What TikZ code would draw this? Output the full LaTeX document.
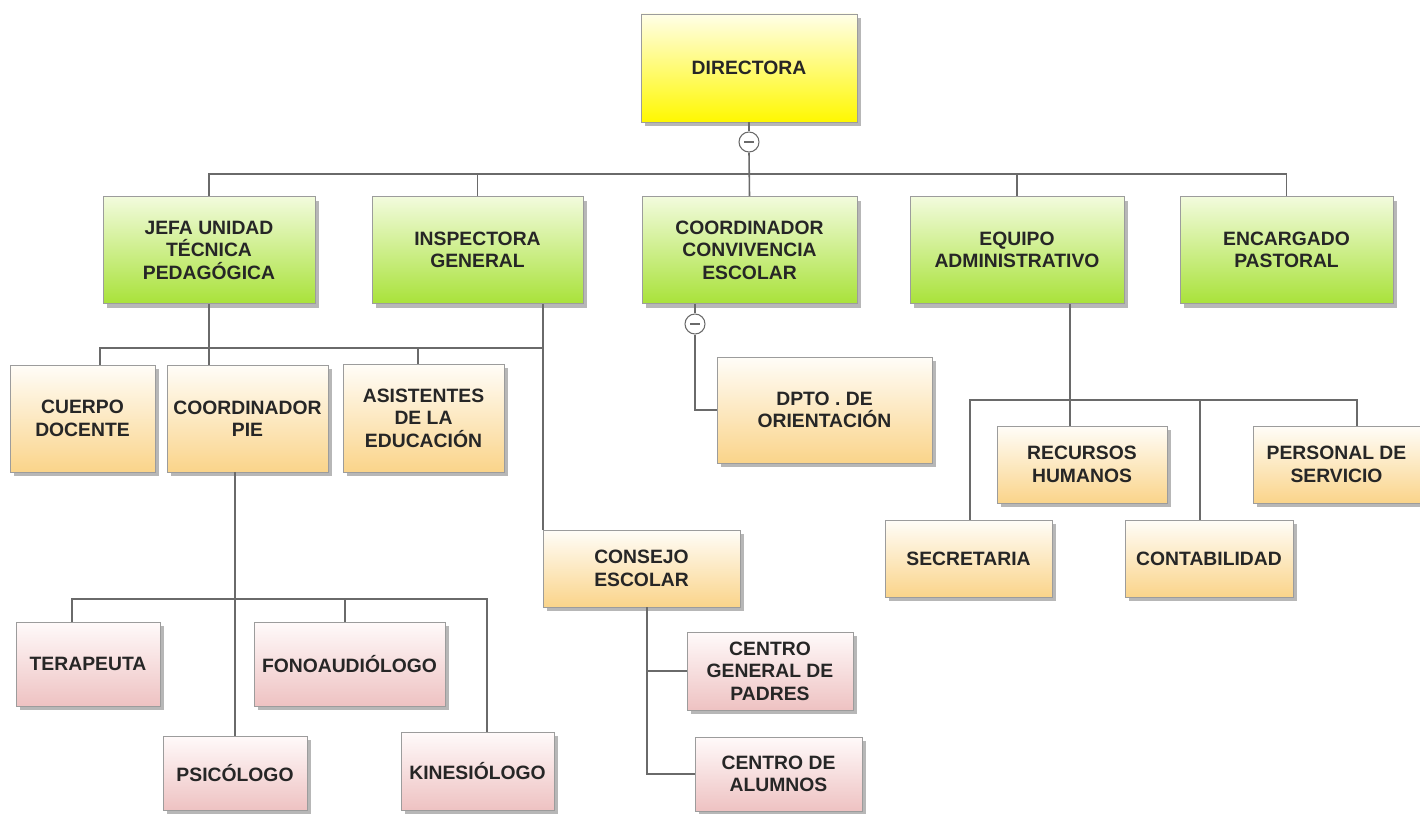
\documentclass[tikz,border=0pt]{standalone}
\usepackage{fontspec}
\setmainfont{Liberation Sans}
\usetikzlibrary{shadows}
\definecolor{lincol}{HTML}{6A6A6A}
\definecolor{boxline}{HTML}{9C9C9C}
\definecolor{greentop}{HTML}{F2FBDD}
\definecolor{greenbot}{HTML}{A9E23A}
\definecolor{yeltop}{HTML}{FFFEE8}
\definecolor{yelbot}{HTML}{FFF800}
\definecolor{orgtop}{HTML}{FFFDF8}
\definecolor{orgbot}{HTML}{FAD48A}
\definecolor{pnktop}{HTML}{FFFAFA}
\definecolor{pnkbot}{HTML}{EEC2C2}
\tikzset{
  sz/.style 2 args={minimum width=#1*0.02cm, minimum height=#2*0.02cm},
  box/.style={draw=boxline, line width=0.5pt, align=center, inner sep=0pt,
    font=\bfseries\fontsize{11}{12.8}\selectfont, text=black!85,
    drop shadow={shadow xshift=2.2pt, shadow yshift=-2.4pt, opacity=.4, fill=black!70}},
  ybox/.style={box, top color=yeltop, bottom color=yelbot},
  gbox/.style={box, top color=greentop, bottom color=greenbot},
  obox/.style={box, top color=orgtop, bottom color=orgbot},
  pbox/.style={box, top color=pnktop, bottom color=pnkbot},
  conn/.style={draw=lincol, line width=0.9pt},
  minus/.style={circle, draw=lincol, fill=white, line width=0.6pt, minimum size=0.4cm, inner sep=0pt,
    path picture={\draw[lincol, line width=0.8pt] ([xshift=-2.8pt]path picture bounding box.center)
      -- ([xshift=2.8pt]path picture bounding box.center);}}
}
\begin{document}
\begin{tikzpicture}[x=0.02cm, y=-0.02cm]
\useasboundingbox[fill=white] (0,0) rectangle (1420,814);
% boxes
\node[ybox, sz={216}{108}] (dir) at (749,68) {DIRECTORA};
\foreach \n/\x/\w/\t in {jefa/209/212/{JEFA UNIDAD\\TÉCNICA\\PEDAGÓGICA},
  insp/477.5/211/{INSPECTORA\\GENERAL},
  conv/749.5/215/{COORDINADOR\\CONVIVENCIA\\ESCOLAR},
  equipo/1017/214/{EQUIPO\\ADMINISTRATIVO},
  pastoral/1286.5/213/{ENCARGADO\\PASTORAL}}
  \node[gbox, sz={\w}{107}] (\n) at (\x,250) {\t};
\foreach \n/\x/\y/\w/\h/\t in {cuerpo/82.5/418.5/145/107/{CUERPO\\DOCENTE},
  pie/247.5/418.5/161/107/{COORDINADOR\\PIE},
  asist/423.5/418/161/108/{ASISTENTES\\DE LA\\EDUCACIÓN},
  consejo/641.5/568.5/197/77/{CONSEJO\\ESCOLAR},
  dpto/824.5/410/215/106/{DPTO . DE\\ORIENTACIÓN},
  rrhh/1082/464.5/170/77/{RECURSOS\\HUMANOS},
  pers/1336.5/464.5/167/77/{PERSONAL DE\\SERVICIO},
  sec/968.5/558.5/167/77/{SECRETARIA},
  cont/1209/558.5/168/77/{CONTABILIDAD}}
  \node[obox, sz={\w}{\h}] (\n) at (\x,\y) {\t};
\foreach \n/\x/\y/\w/\h/\t in {ter/88/664/144/84/{TERAPEUTA},
  fono/349.5/664/191/84/{FONOAUDIÓLOGO},
  psi/235/773/144/74/{PSICÓLOGO},
  kine/477.5/771/153/78/{KINESIÓLOGO},
  cgp/770/671/166/78/{CENTRO\\GENERAL DE\\PADRES},
  ca/778.5/774/167/74/{CENTRO DE\\ALUMNOS}}
  \node[pbox, sz={\w}{\h}] (\n) at (\x,\y) {\t};
% junction points
\coordinate (bus) at (749,174);
\coordinate (j1) at (100,348);
\coordinate (j2) at (543,348);
\coordinate (j3) at (418,348);
\coordinate (c1) at (647,0);
\coordinate (e1) at (970,400);
\coordinate (e2) at (1357,400);
\coordinate (e3) at (1070,400);
\coordinate (e4) at (1200,400);
\coordinate (p1) at (72,599);
\coordinate (p2) at (487,599);
\coordinate (p3) at (345,599);
% connectors
\node[minus] (dmin) at (749,142) {};
\node[minus] (cmin) at (695,324) {};
\draw[conn] (dir.south) -- (dmin.north);
\foreach \n in {jefa,insp,equipo,pastoral}
  \draw[conn] (\n.north) |- (bus);
\draw[conn] (dmin.south) -- (conv.north);
\draw[conn] (jefa.south) -- (jefa.south |- pie.north);
\draw[conn] (cuerpo.north -| j1) |- (j2);
\draw[conn] (j3) -- (asist.north -| j3);
\draw[conn] (insp.south -| j2) -- (consejo.north -| j2);
\draw[conn] (consejo.south -| c1) |- (ca.west);
\draw[conn] (cgp.west) -- (cgp.west -| c1);
\draw[conn] (conv.south -| cmin) -- (cmin.north);
\draw[conn] (cmin.south) |- (dpto.west);
\draw[conn] (equipo.south -| e3) -- (rrhh.north -| e3);
\draw[conn] (sec.north -| e1) |- (e2) -- (pers.north -| e2);
\draw[conn] (e4) -- (cont.north -| e4);
\draw[conn] (pie.south -| psi) -- (psi.north);
\draw[conn] (ter.north -| p1) |- (p2) -- (kine.north -| p2);
\draw[conn] (p3) -- (fono.north -| p3);
\end{tikzpicture}
\end{document}
